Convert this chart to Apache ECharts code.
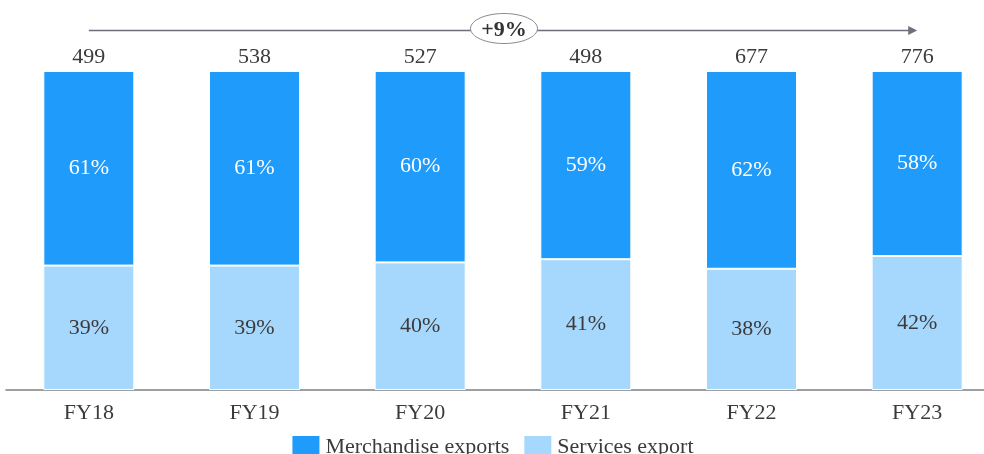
<!DOCTYPE html>
<html>
<head>
<meta charset="utf-8">
<script src="https://cdn.jsdelivr.net/npm/echarts@6/dist/echarts.min.js"></script>
<style>
html,body{margin:0;padding:0;background:#fff;}
#chart{width:984px;height:454px;}
</style>
</head>
<body>
<div id="chart"></div>
<script>
const categories = ['FY18', 'FY19', 'FY20', 'FY21', 'FY22', 'FY23'];
const merchandiseShare = [61, 61, 60, 59, 62, 58];
const servicesShare = [39, 39, 40, 41, 38, 42];
const totals = [499, 538, 527, 498, 677, 776];
const cagrLabel = '+9%';

const FONT = '"Liberation Serif", "Times New Roman", serif';
const TXT = '#3b3b3b';

const chart = echarts.init(document.getElementById('chart'));
chart.setOption({
  animation: false,
  backgroundColor: '#ffffff',
  textStyle: { fontFamily: FONT },
  grid: { left: 6, right: -16, top: 71, bottom: 64, containLabel: false, outerBoundsMode: 'none' },
  legend: {
    top: 429,
    left: 'center',
    icon: 'rect',
    itemWidth: 29,
    itemHeight: 24,
    itemGap: 13,
    textStyle: { fontFamily: FONT, fontSize: 22, color: TXT },
    data: ['Merchandise exports', 'Services export']
  },
  xAxis: {
    type: 'category',
    data: categories,
    axisLine: { lineStyle: { color: '#808080', width: 1.5 } },
    axisTick: { show: false },
    axisLabel: { fontFamily: FONT, fontSize: 22, color: TXT, margin: 12 }
  },
  yAxis: { type: 'value', min: 0, max: 100, show: false, splitLine: { show: false } },
  series: [
    {
      name: 'Services export',
      type: 'bar',
      stack: 'total',
      barWidth: 91,
      data: servicesShare,
      itemStyle: { color: '#A6D7FC', borderColor: '#ffffff', borderWidth: 1 },
      label: { show: true, position: 'inside', formatter: '{c}%', fontFamily: FONT, fontSize: 22, color: TXT }
    },
    {
      name: 'Merchandise exports',
      type: 'bar',
      stack: 'total',
      barWidth: 91,
      data: merchandiseShare,
      itemStyle: { color: '#1E9BFB', borderColor: '#ffffff', borderWidth: 1 },
      label: { show: true, position: 'inside', formatter: '{c}%', fontFamily: FONT, fontSize: 22, color: '#ffffff' }
    },
    {
      name: 'totals',
      type: 'bar',
      stack: 'total',
      barWidth: 91,
      data: totals.map(() => 0),
      itemStyle: { color: 'transparent' },
      label: {
        show: true, position: 'top', distance: 3,
        formatter: p => String(totals[p.dataIndex]),
        fontFamily: FONT, fontSize: 22, color: TXT
      }
    }
  ]
});

// CAGR arrow annotation positioned via the category axis
const x1 = chart.convertToPixel({ xAxisIndex: 0 }, categories[0]);
const x2 = chart.convertToPixel({ xAxisIndex: 0 }, categories[categories.length - 1]);
const ay = 30.5;
const mid = (x1 + x2) / 2 + 1;
chart.setOption({
  graphic: [
    { type: 'line', shape: { x1: x1, y1: ay, x2: x2 - 6, y2: ay }, style: { stroke: '#6e6e7e', lineWidth: 1.3 }, z: 10 },
    { type: 'polygon', shape: { points: [[x2, ay], [x2 - 9, ay - 4.5], [x2 - 9, ay + 4.5]] }, style: { fill: '#6e6e7e' }, z: 10 },
    { type: 'ellipse', shape: { cx: mid, cy: 28.5, rx: 33.5, ry: 15 }, style: { fill: '#ffffff', stroke: '#8a8a8a', lineWidth: 1 }, z: 11 },
    { type: 'text', x: mid, y: 30, style: { text: cagrLabel, fontFamily: FONT, fontSize: 22, fontWeight: 'bold', fill: '#333333', align: 'center', verticalAlign: 'middle' }, z: 12 }
  ]
});
</script>
</body>
</html>
